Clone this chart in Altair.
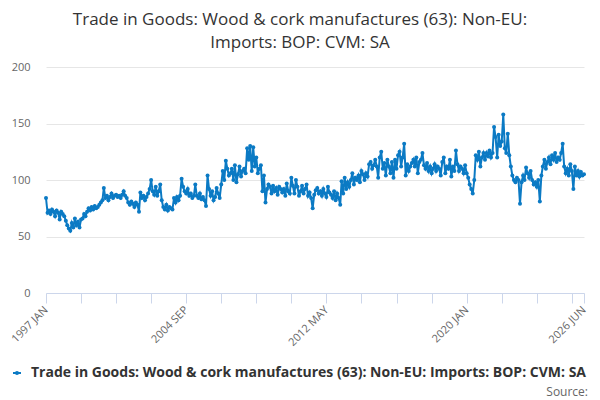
import altair as alt
import pandas as pd

# Monthly values, 1997 JAN .. 2026 JUN
y1997 = [84, 71, 73, 70, 74, 72, 68, 73, 71, 65, 72, 70]
y1998 = [68, 64, 60, 57, 55, 62, 58, 66, 60, 63, 58, 65]
y1999 = [66, 70, 68, 72, 75, 73, 76, 74, 77, 75, 76, 78]
y2000 = [80, 82, 93, 84, 86, 82, 85, 88, 84, 86, 87, 85]
y2001 = [86, 84, 87, 90, 86, 84, 80, 78, 81, 79, 76, 80]
y2002 = [78, 72, 89, 84, 86, 82, 85, 88, 92, 100, 90, 87]
y2003 = [94, 86, 90, 96, 82, 76, 74, 78, 73, 76, 75, 74]
y2004 = [84, 80, 85, 82, 86, 101, 94, 90, 88, 92, 86, 88]
y2005 = [84, 86, 96, 86, 84, 88, 83, 85, 82, 77, 104, 92]
y2006 = [86, 90, 82, 85, 93, 88, 84, 96, 108, 100, 117, 110]
y2007 = [104, 106, 110, 100, 113, 98, 105, 112, 103, 108, 110, 106]
y2008 = [128, 118, 130, 108, 129, 112, 120, 106, 110, 113, 90, 104]
y2009 = [80, 92, 96, 94, 88, 95, 90, 93, 87, 94, 92, 89]
y2010 = [92, 86, 97, 90, 88, 102, 95, 88, 100, 94, 86, 90]
y2011 = [95, 88, 92, 96, 86, 89, 84, 75, 87, 91, 93, 88]
y2012 = [90, 86, 92, 88, 85, 94, 89, 87, 84, 90, 82, 88]
y2013 = [84, 78, 99, 88, 102, 92, 98, 94, 100, 106, 96, 102]
y2014 = [100, 104, 98, 108, 105, 100, 106, 103, 114, 116, 110, 113]
y2015 = [118, 112, 102, 120, 125, 110, 115, 104, 118, 112, 106, 116]
y2016 = [102, 118, 110, 122, 125, 112, 120, 132, 104, 114, 108, 112]
y2017 = [115, 118, 112, 120, 106, 116, 118, 124, 113, 110, 115, 108]
y2018 = [112, 106, 110, 114, 108, 112, 110, 104, 116, 120, 106, 112]
y2019 = [110, 118, 103, 112, 108, 126, 114, 108, 112, 110, 106, 113]
y2020 = [106, 102, 96, 92, 88, 100, 122, 118, 125, 112, 120, 124]
y2021 = [118, 124, 121, 126, 120, 124, 147, 138, 120, 140, 130, 134]
y2022 = [158, 128, 124, 141, 122, 112, 104, 100, 98, 102, 100, 79]
y2023 = [98, 104, 100, 111, 106, 102, 108, 100, 96, 98, 94, 100]
y2024 = [81, 104, 112, 118, 110, 116, 120, 114, 122, 118, 124, 116]
y2025 = [120, 118, 124, 132, 112, 106, 110, 104, 114, 108, 92, 112]
y2026 = [104, 108, 103, 107, 104, 105]

values = (y1997 + y1998 + y1999 + y2000 + y2001 + y2002 + y2003 + y2004 + y2005
          + y2006 + y2007 + y2008 + y2009 + y2010 + y2011 + y2012 + y2013 + y2014
          + y2015 + y2016 + y2017 + y2018 + y2019 + y2020 + y2021 + y2022 + y2023
          + y2024 + y2025 + y2026)

series_name = "Trade in Goods: Wood & cork manufactures (63): Non-EU: Imports: BOP: CVM: SA"
title_lines = ["Trade in Goods: Wood & cork manufactures (63): Non-EU:",
               "Imports: BOP: CVM: SA"]
labelled_ticks = ["1997-01", "2004-09", "2012-05", "2020-01", "2026-06"]
y_ticks = [0, 50, 100, 150, 200]

dates = pd.date_range("1997-01-01", periods=len(values), freq="MS")
df = pd.DataFrame({
    "date": dates.strftime("%Y-%m-%d"),
    "value": values,
    "series": series_name,
})

tick_dates = [pd.Timestamp("1997-01-01") + pd.DateOffset(months=23 * k) for k in range(16)]
tick_dates.append(pd.Timestamp("2026-06-01"))
tick_vals = [alt.DateTime(year=d.year, month=d.month, date=1, utc=True) for d in tick_dates]

label_expr = ("indexof(" + str(labelled_ticks).replace('"', "'") +
              ", utcFormat(datum.value, '%Y-%m')) >= 0 ? upper(utcFormat(datum.value, '%Y %b')) : ''")

FONT = "Open Sans"
BLUE = "#0b7ac4"

line = alt.Chart(df).mark_line(
    strokeWidth=2,
    point=alt.OverlayMarkDef(filled=True, size=16, color=BLUE),
).encode(
    x=alt.X("date:T",
            scale=alt.Scale(type="utc",
                            domain=[alt.DateTime(year=1997, month=1, date=1, utc=True),
                                    alt.DateTime(year=2026, month=6, date=1, utc=True)],
                            nice=False),
            axis=alt.Axis(title=None, values=tick_vals, labelExpr=label_expr,
                          labelAngle=315, labelAlign="right", labelBaseline="middle",
                          labelFont=FONT, labelFontSize=11, labelColor="#666666",
                          labelPadding=5, labelOverlap=False, labelFlush=False,
                          grid=False, domainColor="#ccd6eb", tickColor="#ccd6eb",
                          tickSize=10, domainWidth=1)),
    y=alt.Y("value:Q",
            scale=alt.Scale(domain=[0, 200], nice=False, zero=True),
            axis=alt.Axis(title=None, values=y_ticks, labelFont=FONT, labelFontSize=11,
                          labelColor="#666666", labelPadding=16, domain=False, ticks=False,
                          gridColor="#e6e6e6", gridWidth=1)),
    color=alt.Color("series:N",
                    scale=alt.Scale(range=[BLUE]),
                    legend=alt.Legend(
                        title=None, orient="none", legendX=-38, legendY=297,
                        symbolType="M-0.5,0H0.5M-0.13,0A0.13,0.13,0,1,1,0.13,0A0.13,0.13,0,1,1,-0.13,0",
                        symbolSize=256, symbolStrokeWidth=2, symbolFillColor=BLUE,
                        labelFont=FONT, labelFontSize=14, labelFontWeight="bold",
                        labelColor="#333333", labelLimit=1000, labelOffset=5)),
)

source = alt.Chart(pd.DataFrame({"t": ["Source:"]})).mark_text(
    align="right", baseline="middle", font=FONT, fontSize=12, color="#666666"
).encode(text="t:N", x=alt.value(542), y=alt.value(325))

chart = alt.layer(line, source).properties(
    width=538, height=226,
    autosize=alt.AutoSizeParams(type="none"),
    padding={"left": 38, "top": 59, "right": 8, "bottom": 108},
    title=alt.TitleParams(text=title_lines, font=FONT, fontSize=17, fontWeight="normal",
                          color="#333333", anchor="middle", dx=-15, offset=9,
                          lineHeight=23),
).configure_view(stroke=None)

chart.save("out.html", embed_options={"renderer": "svg", "actions": False})
